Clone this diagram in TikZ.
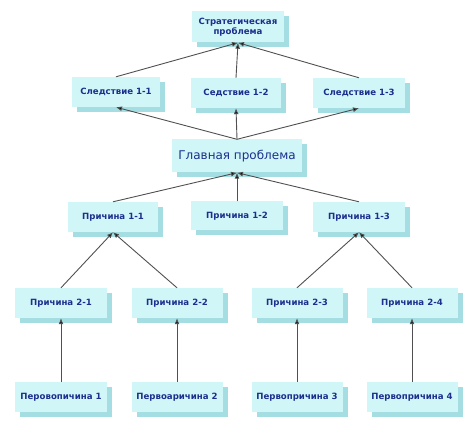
\documentclass[tikz,border=0pt]{standalone}
\usepackage{fontspec}
\setmainfont{DejaVu Sans}
\usetikzlibrary{shadows,arrows.meta}
\definecolor{boxfill}{HTML}{D0F6F8}
\definecolor{boxshadow}{HTML}{A4DEE3}
\definecolor{txt}{HTML}{1C2F8E}
\definecolor{linec}{HTML}{505050}
\tikzset{
  box/.style={fill=boxfill, draw=none, text=txt, font=\bfseries\fontsize{8.6}{10.5}\selectfont,
    align=center, inner sep=0pt,
    drop shadow={shadow xshift=5pt, shadow yshift=-5pt, fill=boxshadow, opacity=1}},
  arr/.style={draw=linec, line width=0.9pt, -{Latex[length=6pt,width=5pt,fill=black]}}
}
\begin{document}
\begin{tikzpicture}[x=1pt,y=-1pt]
\useasboundingbox (0,0) rectangle (474,430);
\node[box, minimum width=92pt, minimum height=31pt] (top) at (238,27) {Стратегическая\\проблема};
\node[box, minimum width=88pt, minimum height=30pt] (s1) at (116,92) {Следствие 1-1};
\node[box, minimum width=90pt, minimum height=30pt] (s2) at (236,93) {Седствие 1-2};
\node[box, minimum width=92pt, minimum height=30pt] (s3) at (359,93) {Следствие 1-3};
\node[box, minimum width=130pt, minimum height=33pt, font=\fontsize{12}{14}\selectfont] (main) at (237,156) {Главная проблема};
\node[box, minimum width=90pt, minimum height=30pt] (p11) at (113,217) {Причина 1-1};
\node[box, minimum width=92pt, minimum height=29pt] (p12) at (237,216) {Причина 1-2};
\node[box, minimum width=92pt, minimum height=30pt] (p13) at (359,217) {Причина 1-3};
\node[box, minimum width=92pt, minimum height=30pt] (p21) at (61,303) {Причина 2-1};
\node[box, minimum width=91pt, minimum height=30pt] (p22) at (177,303) {Причина 2-2};
\node[box, minimum width=91pt, minimum height=30pt] (p23) at (297,303) {Причина 2-3};
\node[box, minimum width=91pt, minimum height=30pt] (p24) at (412,303) {Причина 2-4};
\node[box, minimum width=92pt, minimum height=30pt] (r1) at (61,397) {Перовопичина 1};
\node[box, minimum width=91pt, minimum height=30pt] (r2) at (177,397) {Первоаричина 2};
\node[box, minimum width=91pt, minimum height=30pt] (r3) at (297,397) {Первопричина 3};
\node[box, minimum width=91pt, minimum height=30pt] (r4) at (412,397) {Первопричина 4};
\draw[arr] (s1.north) -- (top.south);
\draw[arr] (s2.north) -- (top.south);
\draw[arr] (s3.north) -- (top.south);
\draw[arr] (main.north) -- (s1.south);
\draw[arr] (main.north) -- (s2.south);
\draw[arr] (main.north) -- (s3.south);
\draw[arr] (p11.north) -- (main.south);
\draw[arr] (p12.north) -- (main.south);
\draw[arr] (p13.north) -- (main.south);
\draw[arr] (p21.north) -- (p11.south);
\draw[arr] (p22.north) -- (p11.south);
\draw[arr] (p23.north) -- (p13.south);
\draw[arr] (p24.north) -- (p13.south);
\draw[arr] (r1.north) -- (p21.south);
\draw[arr] (r2.north) -- (p22.south);
\draw[arr] (r3.north) -- (p23.south);
\draw[arr] (r4.north) -- (p24.south);
\end{tikzpicture}
\end{document}
